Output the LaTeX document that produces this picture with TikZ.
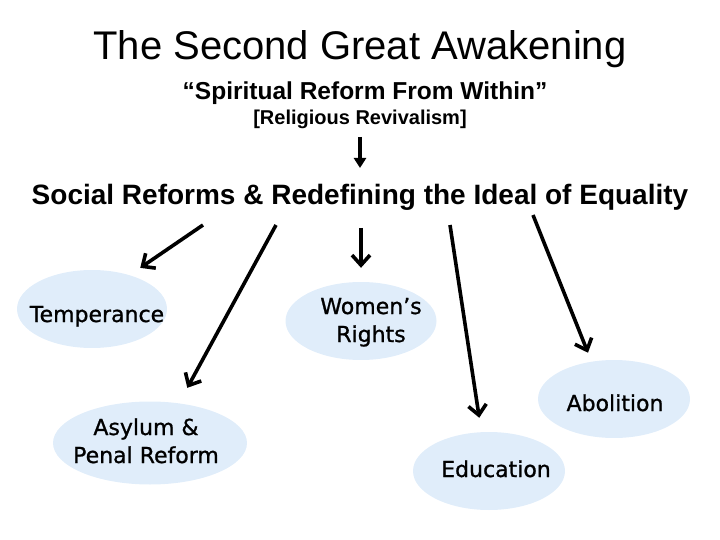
\documentclass[tikz,border=0pt]{standalone}
\usepackage{fontspec}
\setmainfont{Liberation Sans}
\newfontfamily\bubblefont[FakeBold=1]{DejaVu Sans}
\usepackage{tikz}
\usetikzlibrary{positioning,arrows.meta,shapes.geometric}
\definecolor{bubblebg}{RGB}{224,237,250}

\begin{document}
\begin{tikzpicture}[x=1pt,y=-1pt,bubble/.style={ellipse,fill=bubblebg,inner sep=0pt,minimum width=152pt,minimum height=78pt},topic/.style={anchor=base,align=center,inner sep=0pt,font=\bubblefont\fontsize{22}{28}\selectfont},link/.style={-{Straight Barb[length=10pt,width=18pt]},line width=3.6pt}]
    \useasboundingbox (0,0) rectangle (720,540);
    % headings
    \node[anchor=base,inner sep=0pt,font=\fontsize{40}{44}\selectfont] (title) at (360,60) {The Second Great Awakening};
    \node[anchor=base,inner sep=0pt,font=\bfseries\fontsize{24.5}{28}\selectfont] (motto) at (365,100) {“Spiritual Reform From Within”};
    \node[anchor=base,inner sep=0pt,font=\bfseries\fontsize{20}{24}\selectfont] (revival) at (360,125) {[Religious Revivalism]};
    \node[anchor=base,inner sep=0pt,font=\bfseries\fontsize{28}{32}\selectfont] (reforms) at (360,205) {Social Reforms \& Redefining the Ideal of Equality};
    % bubbles
    \node[bubble,minimum width=150pt] (temp) at (92,309) {};
    \node[bubble,minimum width=194pt,minimum height=83pt] (asy) at (150,443) {};
    \node[bubble,minimum width=151pt] (wom) at (361,321) {};
    \node[bubble] (edu) at (489,471) {};
    \node[bubble] (abo) at (614,399) {};
    \node[topic] (tempt) at (97,322) {Temperance};
    \node[topic] (asyt) at (146,463) {Asylum \&\\Penal Reform};
    \node[topic] (womt) at (371,342) {Women’s\\Rights};
    \node[topic] (edut) at (496,477) {Education};
    \node[topic] (abot) at (615,411) {Abolition};
    % arrows
    \coordinate (r0) at (360,137);
    \coordinate (r1) at (360,168);
    \coordinate (a1) at (203,225);
    \coordinate (a2) at (276,225);
    \coordinate (a3) at (361,228);
    \coordinate (a4) at (450,225);
    \coordinate (a5) at (533,215);
    \draw[-{Triangle[length=10pt,width=12pt]},line width=3.6pt] (r0)--(r1);
    \draw[link,shorten >=12.8pt] (a1)--(temp.42);
    \draw[link,shorten >=17.5pt] (a2)--(asy.54);
    \draw[link,shorten >=14pt] (a3)--(wom.north);
    \draw[link,shorten >=14.4pt] (a4)--(edu.101.5);
    \draw[link,shorten >=9.5pt] (a5)--(abo.121);
\end{tikzpicture}
\end{document}
